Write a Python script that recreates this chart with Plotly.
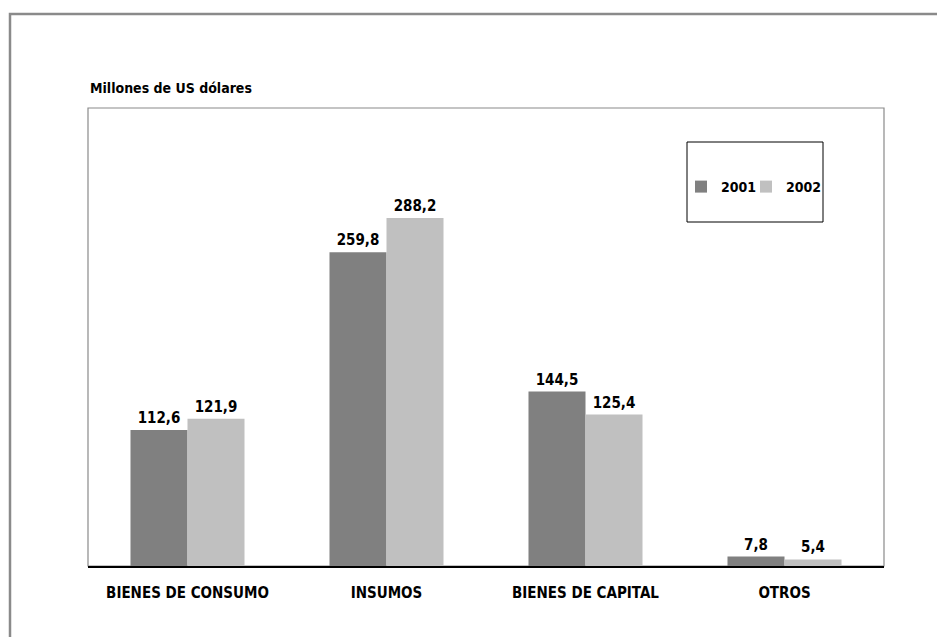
import plotly.graph_objects as go

categories = ["BIENES DE CONSUMO", "INSUMOS", "BIENES DE CAPITAL", "OTROS"]
series_names = ["2001", "2002"]
values_2001 = [112.6, 259.8, 144.5, 7.8]
values_2002 = [121.9, 288.2, 125.4, 5.4]
y_title = "Millones de US dólares"

FONT = "DejaVu Sans Condensed, Liberation Sans Narrow, Arial Narrow, Roboto, sans-serif"
colors = ["#808080", "#c0c0c0"]

W, H = 937, 637
L, R, T, B = 88, 884, 108, 566

def px_x(p):
    return (p - L) / (R - L)

def px_y(p):
    return (B - p) / (B - T)

fig = go.Figure()
legend_ids = ["legend", "legend2"]
for name, vals, col, lg in zip(series_names, [values_2001, values_2002], colors, legend_ids):
    fig.add_trace(go.Bar(
        x=categories, y=vals, name="<b>" + name + "</b>", legend=lg,
        marker=dict(color=col, line=dict(width=0)),
        texttemplate="<b>%{y:.1f}</b>", textposition="outside",
        textfont=dict(family=FONT, size=15, color="#000000"),
        cliponaxis=False,
    ))

shapes = [
    # outer frame
    dict(type="rect", xref="paper", yref="paper",
         x0=px_x(10), x1=px_x(960), y0=px_y(660), y1=px_y(14),
         line=dict(color="#8a8a8a", width=2.5), layer="below"),
    # plot frame
    dict(type="rect", xref="paper", yref="paper",
         x0=0, x1=1, y0=0, y1=1,
         line=dict(color="#8a8a8a", width=1.2), layer="below"),
    # legend box
    dict(type="rect", xref="paper", yref="paper",
         x0=px_x(687), x1=px_x(823), y0=px_y(222), y1=px_y(142),
         line=dict(color="#000000", width=1), fillcolor="white"),
]

def legend_cfg(xpx):
    return dict(orientation="h", xanchor="left", yanchor="top",
                x=px_x(xpx), y=px_y(171),
                bgcolor="rgba(0,0,0,0)", borderwidth=0,
                font=dict(family=FONT, size=14, color="#000000"),
                itemwidth=30)

fig.update_layout(
    width=W, height=H,
    margin=dict(l=L, r=W - R, t=T, b=H - B, pad=0),
    paper_bgcolor="white", plot_bgcolor="white",
    separators=",.",
    barmode="group", bargap=0.427, bargroupgap=0,
    font=dict(family=FONT, size=15, color="#000000"),
    showlegend=True,
    legend=legend_cfg(681),
    legend2=legend_cfg(746),
    xaxis=dict(showgrid=False, showline=True, linecolor="#000000", linewidth=1.5,
               ticks="", tickfont=dict(family=FONT, size=15, weight="bold"),
               ticklabelstandoff=12),
    yaxis=dict(range=[0, 379.3], showgrid=False, showline=False, showticklabels=False,
               zeroline=False, ticks=""),
    shapes=shapes,
    annotations=[dict(text="<b>" + y_title + "</b>", xref="paper", yref="paper",
                      x=px_x(88), y=px_y(88), xanchor="left", yanchor="middle",
                      showarrow=False, font=dict(family=FONT, size=14))],
)

fig.write_html("out.html", config={"displayModeBar": False},
               post_script="document.body.style.margin='0';")
